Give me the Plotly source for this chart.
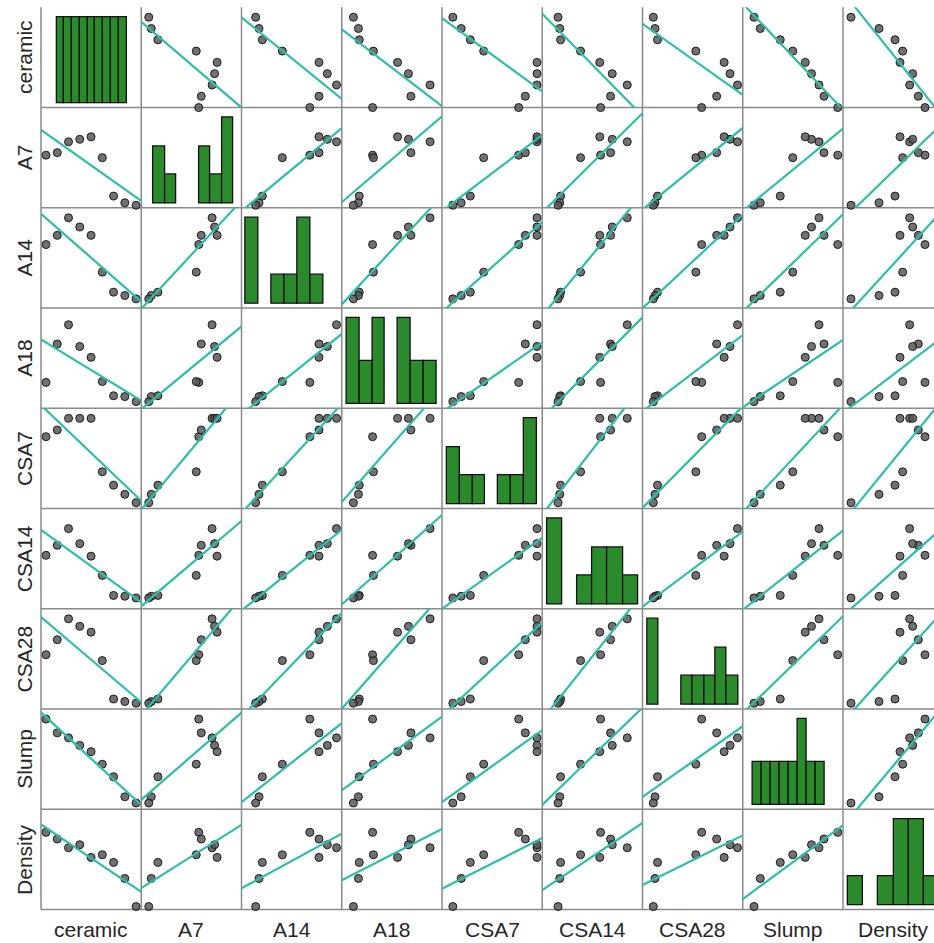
import numpy as np
import plotly.graph_objects as go

# ---- data: one value per mix (ceramic replacement level) ----
names = ["ceramic", "A7", "A14", "A18", "CSA7", "CSA14", "CSA28", "Slump", "Density"]

ceramic = [0, 5, 10, 15, 20, 25, 30, 35, 40]
A7 = [30.3, 30.6, 31.9, 32.2, 32.5, 30.0, 25.4, 24.6, 24.3]
A14 = [35.6, 36.7, 38.8, 37.7, 36.7, 32.3, 29.9, 29.5, 29.1]
A18 = [33.1, 37.7, 40.0, 37.4, 36.1, 33.2, 31.5, 31.4, 30.8]
CSA7 = [26.6, 27.4, 28.8, 28.8, 28.8, 22.4, 20.8, 19.7, 18.7]
CSA14 = [28.4, 29.6, 31.6, 29.8, 28.3, 26.0, 23.6, 23.5, 23.3]
CSA28 = [32.5, 34.3, 36.8, 35.9, 35.2, 31.8, 27.2, 26.9, 26.7]
Slump = [112, 101, 97, 91, 86, 76, 66, 50, 45]
Density = [2431, 2411, 2385, 2394, 2356, 2364, 2341, 2293, 2209]

data = {"ceramic": ceramic, "A7": A7, "A14": A14, "A18": A18, "CSA7": CSA7,
        "CSA14": CSA14, "CSA28": CSA28, "Slump": Slump, "Density": Density}

# histogram bins: (start, size, number of bins)
bins = {
    "ceramic": (-2.5, 5.0, 9),
    "A7": (23.76, 1.32, 7),
    "A14": (28.0, 2.04, 6),
    "A18": (29.9, 1.54, 7),
    "CSA7": (18.0, 1.76, 7),
    "CSA14": (22.84, 1.5, 6),
    "CSA28": (26.5, 1.35, 8),
    "Slump": (40.0, 9.6, 8),
    "Density": (2200.0, 45.0, 6),
}

# ---- layout geometry (pixels) ----
W, H = 934, 943
P = 100.25          # panel size
X0, Y0 = 41.0, 7.3  # top-left corner of the matrix
n = len(names)

# axis scales: lower bound and span for each variable
scale = {"ceramic": (0, 44.4), "A7": (24, 12), "A14": (28, 12), "A18": (30, 12),
         "CSA7": (18, 12), "CSA14": (22, 12), "CSA28": (26, 12),
         "Slump": (40, 80), "Density": (2200, 300)}

# where the histogram bars sit inside a diagonal panel (px from the left edge)
hist_pos = {"ceramic": (15.5, 85.5), "A7": (12.3, 92.3), "A14": (4.4, 81.7),
            "A18": (4.7, 95.0), "CSA7": (4.7, 95.0), "CSA14": (4.7, 95.7),
            "CSA28": (5.0, 95.7), "Slump": (10.0, 82.3), "Density": (5.0, 96.0)}

POINT_FILL = "rgba(88,88,88,0.85)"
POINT_EDGE = "#1c1c1c"
FIT_COLOR = "#2bbfa9"
BAR_COLOR = "#2b8a2b"
GRID_COLOR = "#8a8a8a"
TEXT_COLOR = "#262626"
FONT = "Liberation Sans, Arial, sans-serif"


def col_domain(j):
    a = X0 + j * P
    b = min(X0 + (j + 1) * P, W)
    return [a / W, b / W], (b - a) / P


def row_domain(i):
    top = Y0 + i * P
    bot = Y0 + (i + 1) * P
    return [(H - bot) / H, (H - top) / H]


def x_range(var, vis):
    lo, w = scale[var]
    a = lo - 0.05 * w
    b = lo + 0.9525 * w
    return [a, a + (b - a) * vis], [a, b]


def y_range(var):
    lo, w = scale[var]
    return [lo, lo + w]


fig = go.Figure()
layout = {}

for i, yv in enumerate(names):
    for j, xv in enumerate(names):
        k = i * n + j + 1
        xa = "x" if k == 1 else f"x{k}"
        ya = "y" if k == 1 else f"y{k}"
        xdom, vis = col_domain(j)
        ydom = row_domain(i)

        if i == j:
            start, size, nb = bins[xv]
            end = start + nb * size
            counts, _ = np.histogram(data[xv], bins=np.linspace(start, end, nb + 1))
            maxc = counts.max()
            lpx, rpx = hist_pos[xv]
            per_px = (end - start) / (rpx - lpx)
            xr0 = start - lpx * per_px
            xr = [xr0, xr0 + P * vis * per_px]
            yr = [-0.047 * maxc, 1.116 * maxc]
            fig.add_trace(go.Histogram(
                x=data[xv], xbins=dict(start=start, end=end, size=size),
                autobinx=False,
                marker=dict(color=BAR_COLOR, line=dict(color="#111111", width=1.3)),
                xaxis=xa, yaxis=ya, showlegend=False, hoverinfo="skip"))
        else:
            xr, xfull = x_range(xv, vis)
            yr = y_range(yv)
            xs = np.array(data[xv], dtype=float)
            ys = np.array(data[yv], dtype=float)
            fig.add_trace(go.Scatter(
                x=xs, y=ys, mode="markers", cliponaxis=False,
                marker=dict(size=8, color=POINT_FILL, line=dict(color=POINT_EDGE, width=1)),
                xaxis=xa, yaxis=ya, showlegend=False, hoverinfo="skip"))
            slope, icpt = np.polyfit(xs, ys, 1)
            lx = np.array(xfull)
            fig.add_trace(go.Scatter(
                x=lx, y=slope * lx + icpt, mode="lines",
                line=dict(color=FIT_COLOR, width=2.2),
                xaxis=xa, yaxis=ya, showlegend=False, hoverinfo="skip"))

        layout["xaxis" if k == 1 else f"xaxis{k}"] = dict(
            domain=xdom, range=xr, anchor=ya, visible=False, fixedrange=True)
        layout["yaxis" if k == 1 else f"yaxis{k}"] = dict(
            domain=ydom, range=yr, anchor=xa, visible=False, fixedrange=True)

# panel separators
shapes = []
for j in range(n):
    x = (X0 + j * P) / W
    shapes.append(dict(type="line", xref="paper", yref="paper", x0=x, x1=x,
                       y0=(H - (Y0 + n * P)) / H, y1=(H - Y0) / H,
                       line=dict(color=GRID_COLOR, width=1.5), layer="below"))
for i in range(1, n + 1):
    y = (H - (Y0 + i * P)) / H
    shapes.append(dict(type="line", xref="paper", yref="paper", x0=X0 / W, x1=1,
                       y0=y, y1=y, line=dict(color=GRID_COLOR, width=1.5), layer="below"))

# variable labels
annotations = []
for j, name in enumerate(names):
    annotations.append(dict(text=name, xref="paper", yref="paper",
                            x=(X0 + (j + 0.5) * P) / W, y=(H - 929.5) / H,
                            xanchor="center", yanchor="middle", showarrow=False,
                            font=dict(family=FONT, size=21, color=TEXT_COLOR)))
for i, name in enumerate(names):
    annotations.append(dict(text=name, xref="paper", yref="paper",
                            x=24.5 / W, y=(H - (Y0 + (i + 0.5) * P)) / H,
                            xanchor="center", yanchor="middle", textangle=-90,
                            showarrow=False,
                            font=dict(family=FONT, size=21, color=TEXT_COLOR)))

fig.update_layout(
    width=W, height=H,
    margin=dict(l=0, r=0, t=0, b=0, pad=0),
    paper_bgcolor="white", plot_bgcolor="rgba(0,0,0,0)",
    bargap=0, showlegend=False,
    shapes=shapes, annotations=annotations,
    **layout,
)

fig.write_html("out.html")
